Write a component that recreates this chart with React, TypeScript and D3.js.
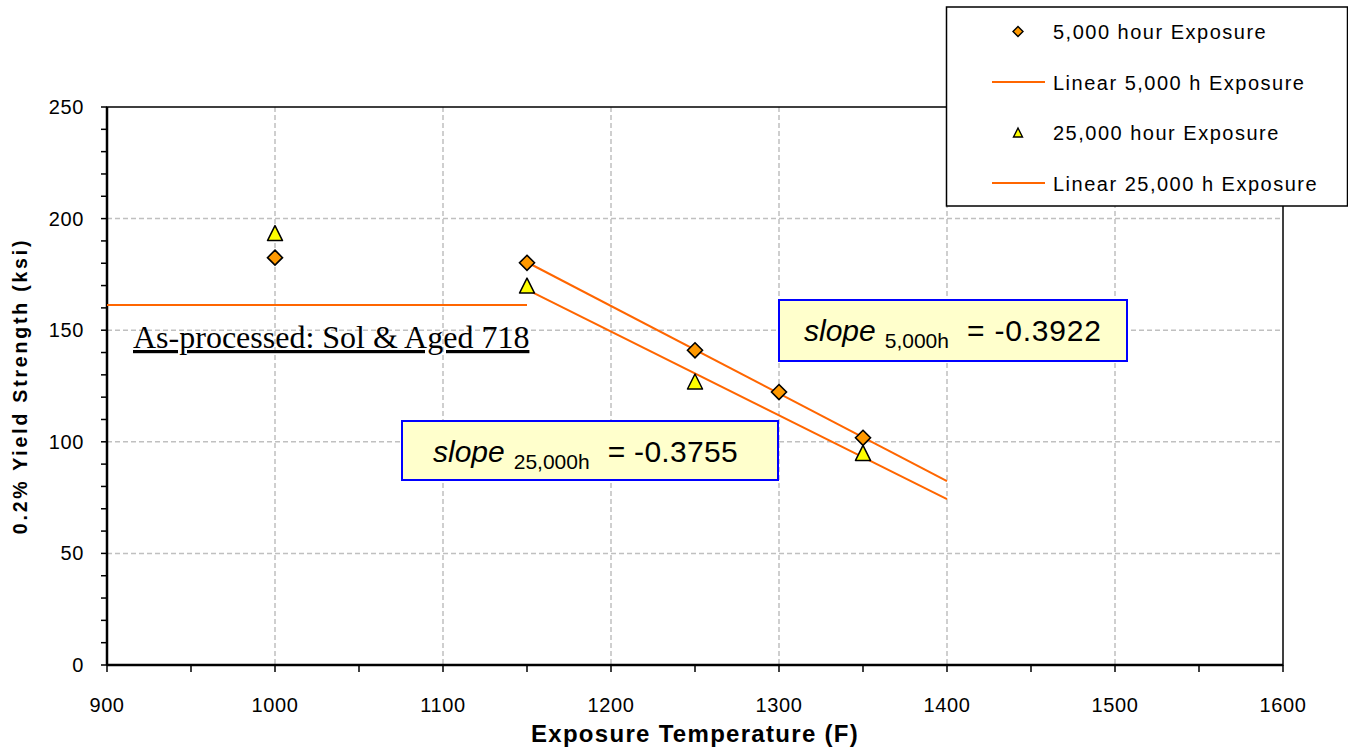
import React from "react";
import * as d3 from "d3";

// Yield strength after thermal exposure, Alloy 718
const temps5k = [1000, 1150, 1250, 1300, 1350];
const ys5k = [182.5, 180.2, 141, 122.3, 101.8];
const temps25k = [1000, 1150, 1250, 1350];
const ys25k = [193.5, 170, 127, 95];

// Linear fits are drawn over the 1150–1400 F range (excluding the 1000 F point)
const fitStart = 1150;
const fitEnd = 1400;
const slope5k = -0.3922;
const slope25k = -0.3755;

// As-processed reference level
const asProcessedYS = 161.3;
const asProcessedRange = [900, 1150];

const xTicks = [900, 1000, 1100, 1200, 1300, 1400, 1500, 1600];
const yTicks = [0, 50, 100, 150, 200, 250];

const legendItems = [
  { label: "5,000 hour Exposure", kind: "diamond" },
  { label: "Linear 5,000 h Exposure", kind: "line" },
  { label: "25,000 hour Exposure", kind: "triangle" },
  { label: "Linear 25,000 h Exposure", kind: "line" },
];

const FONT = "'Liberation Sans', Arial, sans-serif";
const ORANGE_LINE = "#FF6600";
const DIAMOND_FILL = "#FF9900";
const TRI_FILL = "#FFFF00";

function fitLine(xs: number[], ys: number[], slope: number) {
  const pts = xs.map((x, i) => [x, ys[i]]).filter((p) => p[0] >= fitStart);
  const mx = d3.mean(pts, (p) => p[0]) as number;
  const my = d3.mean(pts, (p) => p[1]) as number;
  const f = (x: number) => my + slope * (x - mx);
  return [
    [fitStart, f(fitStart)],
    [fitEnd, f(fitEnd)],
  ];
}

export default function App() {
  const W = 1348;
  const H = 752;
  const left = 107;
  const right = 1283;
  const top = 107;
  const bottom = 665;

  const x = d3.scaleLinear().domain([900, 1600]).range([left, right]);
  const y = d3.scaleLinear().domain([0, 250]).range([bottom, top]);

  const line = d3
    .line<number[]>()
    .x((d) => x(d[0]))
    .y((d) => y(d[1]));

  const fit5k = fitLine(temps5k, ys5k, slope5k);
  const fit25k = fitLine(temps25k, ys25k, slope25k);

  const xMinor = d3.range(900, 1601, 50);
  const yMinor = d3.range(0, 251, 10);

  const diamond = (cx: number, cy: number, r: number) =>
    `M${cx},${cy - r}L${cx + r},${cy}L${cx},${cy + r}L${cx - r},${cy}Z`;
  const triangle = (cx: number, cy: number, r: number) =>
    `M${cx},${cy - r}L${cx + r},${cy + r}L${cx - r},${cy + r}Z`;

  return (
    <svg
      width={W}
      height={H}
      style={{ position: "absolute", left: 0, top: 0, background: "#fff" }}
      fontFamily={FONT}
    >
      {/* grid */}
      <g stroke="#C0C0C0" strokeWidth={1.5} strokeDasharray="5,3">
        {xTicks.slice(1, -1).map((t) => (
          <line key={"gx" + t} x1={x(t)} x2={x(t)} y1={top} y2={bottom} />
        ))}
        {yTicks.slice(1, -1).map((t) => (
          <line key={"gy" + t} x1={left} x2={right} y1={y(t)} y2={y(t)} />
        ))}
      </g>

      {/* plot frame */}
      <rect x={left} y={top} width={right - left} height={bottom - top} fill="none" stroke="#000" strokeWidth={1.5} />
      <line x1={left} x2={left} y1={top} y2={bottom} stroke="#000" strokeWidth={2.5} />
      <line x1={left} x2={right} y1={bottom} y2={bottom} stroke="#000" strokeWidth={2.5} />

      {/* ticks */}
      <g stroke="#000" strokeWidth={1.5}>
        {xMinor.map((t) => (
          <line key={"tx" + t} x1={x(t)} x2={x(t)} y1={bottom} y2={bottom + 7} />
        ))}
        {yMinor.map((t) => (
          <line key={"ty" + t} x1={left - 6} x2={left} y1={y(t)} y2={y(t)} />
        ))}
      </g>
      <g fontSize={20} fill="#000" letterSpacing={0.6}>
        {xTicks.map((t) => (
          <text key={"lx" + t} x={x(t)} y={712} textAnchor="middle">
            {t}
          </text>
        ))}
        {yTicks.map((t) => (
          <text key={"ly" + t} x={84} y={y(t) + 7} textAnchor="end">
            {t}
          </text>
        ))}
      </g>

      {/* axis titles */}
      <text x={695} y={742} textAnchor="middle" fontSize={24} fontWeight="bold" letterSpacing={1.3}>
        Exposure Temperature (F)
      </text>
      <text
        transform={`translate(27,${(top + bottom) / 2}) rotate(-90)`}
        textAnchor="middle"
        fontSize={19.5}
        fontWeight="bold"
        letterSpacing={2.8}
      >
        0.2% Yield Strength  (ksi)
      </text>

      {/* as-processed level */}
      <path
        d={line([
          [asProcessedRange[0], asProcessedYS],
          [asProcessedRange[1], asProcessedYS],
        ]) as string}
        stroke={ORANGE_LINE}
        strokeWidth={2.2}
        fill="none"
      />
      <text
        x={133}
        y={348}
        fontFamily="'Liberation Serif', 'Times New Roman', serif"
        fontSize={32}
        textDecoration="underline"
        fill="#000"
      >
        As-processed: Sol &amp; Aged 718
      </text>

      {/* trend lines */}
      <path d={line(fit5k) as string} stroke={ORANGE_LINE} strokeWidth={2} fill="none" />
      <path d={line(fit25k) as string} stroke={ORANGE_LINE} strokeWidth={2} fill="none" />

      {/* markers */}
      {temps25k.map((t, i) => (
        <path
          key={"t" + t}
          d={triangle(x(t), y(ys25k[i]), 7.5)}
          fill={TRI_FILL}
          stroke="#000"
          strokeWidth={1.5}
          strokeLinejoin="round"
        />
      ))}
      {temps5k.map((t, i) => (
        <path
          key={"d" + t}
          d={diamond(x(t), y(ys5k[i]), 7.5)}
          fill={DIAMOND_FILL}
          stroke="#000"
          strokeWidth={1.6}
        />
      ))}

      {/* slope annotations */}
      <g>
        <rect x={779} y={300} width={348} height={61} fill="#FFFFCC" stroke="#0000FF" strokeWidth={2} />
        <text x={804} y={341} fontSize={30} fill="#000">
          <tspan fontStyle="italic">slope</tspan>
          <tspan fontSize={21} dx={9} dy={7}>5,000h</tspan>
          <tspan dx={18} dy={-7} letterSpacing={0.8}>= -0.3922</tspan>
        </text>
        <rect x={402} y={421} width={376} height={59} fill="#FFFFCC" stroke="#0000FF" strokeWidth={2} />
        <text x={433} y={462} fontSize={30} fill="#000">
          <tspan fontStyle="italic">slope</tspan>
          <tspan fontSize={21} dx={9} dy={7}>25,000h</tspan>
          <tspan dx={18} dy={-7} letterSpacing={0.3}>= -0.3755</tspan>
        </text>
      </g>

      {/* legend */}
      <g>
        <rect x={946.5} y={7} width={401} height={199} fill="#fff" stroke="#000" strokeWidth={1.5} />
        {legendItems.map((it, i) => {
          const cy = 31.5 + i * 50.5;
          return (
            <g key={it.label}>
              {it.kind === "line" && (
                <line x1={992} x2={1045} y1={cy} y2={cy} stroke={ORANGE_LINE} strokeWidth={2} />
              )}
              {it.kind === "diamond" && (
                <path d={diamond(1018, cy, 5)} fill={DIAMOND_FILL} stroke="#000" strokeWidth={1.4} />
              )}
              {it.kind === "triangle" && (
                <path d={triangle(1018, cy, 4.5)} fill={TRI_FILL} stroke="#000" strokeWidth={1.4} />
              )}
              <text x={1053} y={cy + 7.5} fontSize={20} fill="#000" letterSpacing={1.5}>
                {it.label}
              </text>
            </g>
          );
        })}
      </g>
    </svg>
  );
}
